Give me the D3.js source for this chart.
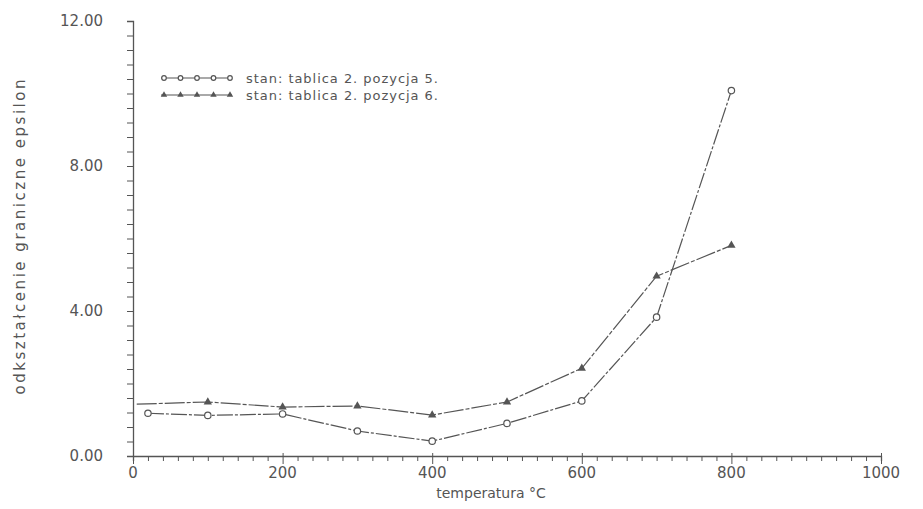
<!DOCTYPE html>
<html>
<head>
<meta charset="utf-8">
<script src="https://cdn.jsdelivr.net/npm/d3@7"></script>
<style>
  body { margin: 0; background: #fff; }
  text { font-family: "DejaVu Sans", sans-serif; fill: #555; }
</style>
</head>
<body>
<div class="chart"></div>
<script>
var temps5 = [20, 100, 200, 300, 400, 500, 600, 700, 800];
var eps5 = [1.18, 1.12, 1.16, 0.69, 0.41, 0.90, 1.52, 3.83, 10.08];
var temps6 = [5, 100, 200, 300, 400, 500, 600, 700, 800];
var eps6 = [1.43, 1.49, 1.35, 1.38, 1.13, 1.49, 2.42, 4.96, 5.81];
var seriesNames = ['stan: tablica 2. pozycja 5.', 'stan: tablica 2. pozycja 6.'];
var xTicks = [0, 200, 400, 600, 800, 1000];
var yTicks = [0, 4, 8, 12];

var width = 923;
var height = 509;
var ink = '#555';

var svg = d3.select('.chart')
  .append('svg')
  .attr('width', width)
  .attr('height', height);

var xScale = d3.scaleLinear().domain([0, 1000]).range([133, 881]);
var yScale = d3.scaleLinear().domain([0, 12]).range([456, 21]);

// y axis: ticks point left, minor every 0.4
var yAxis = svg.append('g')
  .attr('transform', 'translate(' + xScale(0) + ',0)')
  .call(d3.axisLeft(yScale)
    .tickValues(d3.range(0, 12.01, 0.4))
    .tickSize(6)
    .tickFormat(''));
yAxis.select('.domain').attr('stroke', ink).attr('stroke-width', 1.3);
yAxis.selectAll('.tick line').attr('stroke', ink);

svg.append('g').selectAll('text')
  .data(yTicks)
  .enter()
  .append('text')
  .attr('x', 103)
  .attr('y', d => yScale(d) + 5)
  .attr('text-anchor', 'end')
  .style('font-size', '15px')
  .text(d => d.toFixed(2));

// x axis: ticks point down, minor every 20
var xAxis = svg.append('g')
  .attr('transform', 'translate(0,' + yScale(0) + ')')
  .call(d3.axisBottom(xScale)
    .tickValues(d3.range(0, 1001, 20))
    .tickSize(5)
    .tickFormat(''));
xAxis.select('.domain').attr('stroke', ink).attr('stroke-width', 1.3);
xAxis.selectAll('.tick line').attr('stroke', ink);
xAxis.selectAll('.tick')
  .filter(d => d % 200 === 0)
  .select('line')
  .attr('y1', -3)
  .attr('y2', 8);

svg.append('g').selectAll('text')
  .data(xTicks)
  .enter()
  .append('text')
  .attr('x', d => xScale(d))
  .attr('y', 478)
  .attr('text-anchor', 'middle')
  .style('font-size', '15px')
  .text(d => d);

svg.append('text')
  .attr('x', 491)
  .attr('y', 498)
  .attr('text-anchor', 'middle')
  .style('font-size', '14px')
  .text('temperatura °C');

svg.append('text')
  .attr('transform', 'translate(25,237) rotate(-90)')
  .attr('text-anchor', 'middle')
  .style('font-size', '15px')
  .attr('textLength', 315)
  .text('odkształcenie graniczne epsilon');

var line = d3.line()
  .x(d => xScale(d[0]))
  .y(d => yScale(d[1]));

var pts5 = temps5.map((t, i) => [t, eps5[i]]);
var pts6 = temps6.map((t, i) => [t, eps6[i]]);

svg.append('path')
  .datum(pts5)
  .attr('d', line)
  .attr('fill', 'none')
  .attr('stroke', ink)
  .attr('stroke-width', 1.2)
  .attr('stroke-dasharray', '16,2,3,2');

svg.append('path')
  .datum(pts6)
  .attr('d', line)
  .attr('fill', 'none')
  .attr('stroke', ink)
  .attr('stroke-width', 1.2)
  .attr('stroke-dasharray', '20,2,4,2');

function circles(sel, pts, r) {
  sel.selectAll('circle')
    .data(pts)
    .enter()
    .append('circle')
    .attr('cx', d => d[0])
    .attr('cy', d => d[1])
    .attr('r', r)
    .attr('fill', '#fff')
    .attr('stroke', ink)
    .attr('stroke-width', 1.2);
}

function triangles(sel, pts, size) {
  sel.selectAll('path')
    .data(pts)
    .enter()
    .append('path')
    .attr('d', d3.symbol().type(d3.symbolTriangle).size(size))
    .attr('transform', d => 'translate(' + d[0] + ',' + d[1] + ')')
    .attr('fill', ink);
}

circles(svg.append('g'), pts5.map(d => [xScale(d[0]), yScale(d[1])]), 3.2);
triangles(svg.append('g'), pts6.slice(1).map(d => [xScale(d[0]), yScale(d[1])]), 30);

// legend
var legend = svg.append('g');
var legY = [78, 95];
legend.selectAll('line')
  .data(legY)
  .enter()
  .append('line')
  .attr('x1', 161)
  .attr('x2', 232)
  .attr('y1', d => d)
  .attr('y2', d => d)
  .attr('stroke', ink)
  .attr('stroke-width', 1.2);

var legX = d3.range(5).map(i => 164 + i * 16.5);
circles(legend.append('g'), legX.map(x => [x, legY[0]]), 2.3);
triangles(legend.append('g'), legX.map(x => [x, legY[1]]), 18);

legend.selectAll('text')
  .data(seriesNames)
  .enter()
  .append('text')
  .attr('x', 246)
  .attr('y', (d, i) => legY[i] + 5)
  .attr('textLength', 192)
  .style('font-size', '13px')
  .text(d => d);
</script>
</body>
</html>
